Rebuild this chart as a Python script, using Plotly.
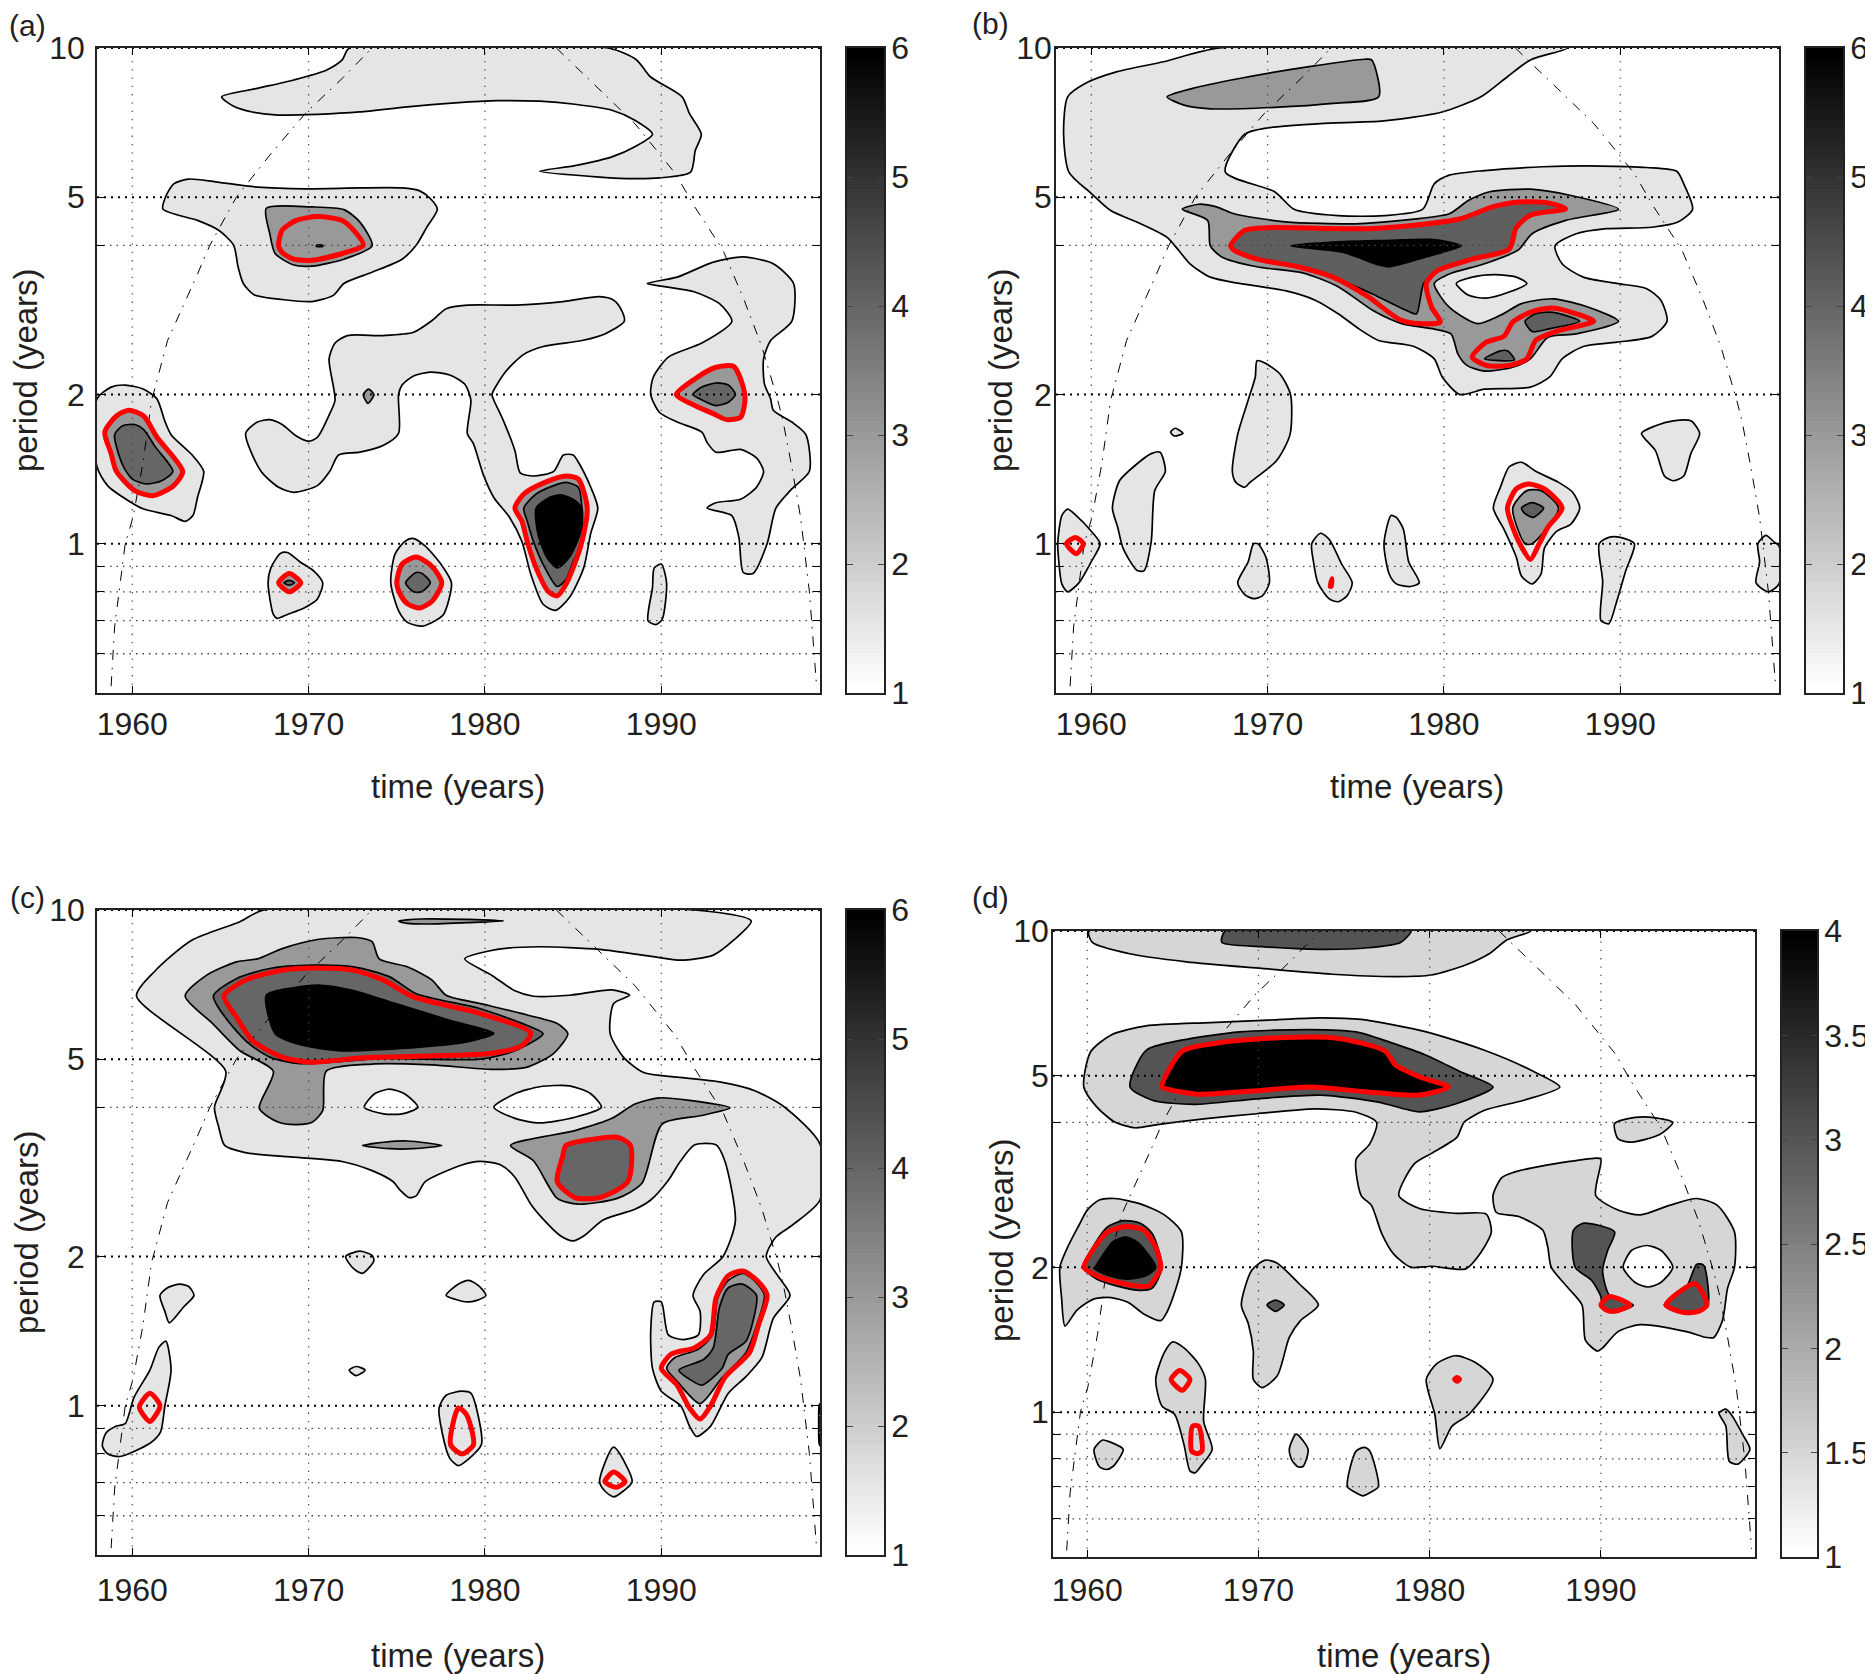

import numpy as np
import plotly.graph_objects as go

# Cone of influence, same for all panels (time, period)
coi_left = [(1958.8, 0.516), (1959.0, 0.68), (1959.6, 1.0), (1960.04, 1.13), (1960.6, 1.45), (1961.1, 1.95),
            (1961.3, 2.07), (1962.0, 2.57), (1963.7, 3.5), (1964.4, 4.0), (1965.9, 5.0), (1967.8, 6.08),
            (1969.8, 7.37), (1971.9, 8.68), (1973.6, 10.0)]
coi_right = [(1984.05, 10.0), (1986.5, 8.23), (1988.5, 7.04), (1990.8, 5.58), (1991.9, 4.78), (1993.5, 3.91),
             (1994.7, 3.1), (1995.7, 2.5), (1996.6, 1.95), (1996.9, 1.77), (1997.4, 1.43), (1997.9, 1.13),
             (1998.4, 0.8), (1998.8, 0.52)]

year_ticks = [1960, 1970, 1980, 1990]
period_ticks = [0.6, 0.7, 0.8, 0.9, 1, 2, 4, 5, 10]
period_labels = ["", "", "", "", "1", "2", "", "5", "10"]
major_periods = [1, 2, 5, 10]
minor_periods = [0.6, 0.7, 0.8, 0.9, 4]
bar_ticks_abc = [1, 2, 3, 4, 5, 6]
bar_ticks_d = [1, 1.5, 2, 2.5, 3, 3.5, 4]

# Panel (a)
a_light = [
    [(1972.31, 10), (1987.0, 10), (1988.6, 9.46), (1989.38, 8.75), (1991.18, 7.97), (1991.6, 7.37), (1992.27, 6.7),
     (1991.93, 6.22), (1991.66, 5.62), (1989.9, 5.47), (1988.53, 5.45), (1986.5, 5.49), (1983.1, 5.64), (1985.1, 5.79),
     (1987.2, 6.03), (1988.5, 6.32), (1989.5, 6.7), (1988.5, 7.15), (1987.2, 7.49), (1985.1, 7.7), (1983.1, 7.81),
     (1980.7, 7.83), (1978.3, 7.75), (1975.6, 7.61), (1972.9, 7.43), (1970.5, 7.35), (1968.1, 7.33), (1966.8, 7.43),
     (1965.75, 7.63), (1965.07, 7.97), (1967.1, 8.29), (1969.15, 8.62), (1971.0, 9.02), (1971.9, 9.46)],
    [(1961.74, 4.73), (1961.88, 5.0), (1962.35, 5.32), (1963.2, 5.44), (1964.73, 5.37), (1967.1, 5.24), (1969.83, 5.2),
     (1972.9, 5.22), (1975.27, 5.22), (1976.3, 5.15), (1976.9, 4.97), (1977.3, 4.73), (1976.7, 4.35), (1976.1, 4.0),
     (1975.3, 3.75), (1973.6, 3.53), (1972.0, 3.35), (1971.4, 3.17), (1970.2, 3.08), (1968.5, 3.11), (1966.9, 3.18),
     (1966.3, 3.35), (1966.0, 3.62), (1965.75, 4.0), (1964.9, 4.29), (1963.7, 4.49)],
    [(1966.43, 1.67), (1967.1, 1.76), (1967.8, 1.78), (1968.5, 1.74), (1969.3, 1.65), (1970.0, 1.61), (1970.5, 1.64),
     (1971.2, 1.83), (1971.5, 1.95), (1971.16, 2.36), (1971.5, 2.54), (1972.2, 2.63), (1974.25, 2.63), (1975.95, 2.67),
     (1977.0, 2.82), (1977.8, 2.98), (1979.0, 3.03), (1981.7, 3.03), (1984.45, 3.08), (1986.5, 3.15), (1987.3, 3.1),
     (1987.7, 2.98), (1987.9, 2.81), (1986.8, 2.65), (1985.5, 2.57), (1983.3, 2.5), (1982.2, 2.41), (1981.2, 2.23),
     (1980.4, 2.0), (1980.5, 1.95), (1981.05, 1.77), (1981.7, 1.54), (1982.0, 1.39), (1982.75, 1.37), (1983.9, 1.4),
     (1984.45, 1.51), (1985.0, 1.51), (1985.3, 1.46), (1986.0, 1.3), (1986.4, 1.18), (1986.0, 1.05), (1985.6, 0.894),
     (1984.8, 0.78), (1984.0, 0.734), (1983.3, 0.755), (1982.6, 0.868), (1982.1, 1.01), (1981.4, 1.13), (1980.5, 1.24),
     (1979.9, 1.38), (1979.35, 1.59), (1979.0, 1.67), (1979.2, 1.95), (1978.85, 2.1), (1978.0, 2.19), (1976.9, 2.22),
     (1975.95, 2.18), (1975.3, 2.09), (1975.1, 2.0), (1975.1, 1.67), (1974.25, 1.58), (1972.9, 1.53), (1971.7, 1.51),
     (1971.2, 1.4), (1970.5, 1.31), (1969.15, 1.27), (1968.3, 1.3), (1967.3, 1.4)],
    [(1958.0, 1.96), (1958.8, 2.07), (1959.6, 2.09), (1960.65, 2.05), (1961.4, 1.96), (1961.84, 1.77), (1962.2, 1.66),
     (1963.4, 1.51), (1964.05, 1.4), (1963.7, 1.24), (1963.44, 1.14), (1963.0, 1.11), (1962.2, 1.14), (1960.65, 1.175),
     (1959.8, 1.22), (1958.6, 1.31), (1958.0, 1.43)],
    [(1989.2, 3.35), (1990.9, 3.45), (1992.95, 3.7), (1994.65, 3.79), (1996.35, 3.67), (1997.5, 3.35), (1997.4, 2.81),
     (1996.2, 2.57), (1995.8, 2.36), (1995.85, 2.1), (1996.2, 1.96), (1996.35, 1.86), (1997.4, 1.76), (1998.2, 1.66),
     (1998.4, 1.4), (1997.4, 1.29), (1996.5, 1.18), (1996.0, 1.0), (1995.2, 0.871), (1994.65, 0.875), (1994.4, 1.03),
     (1994.0, 1.14), (1992.6, 1.18), (1993.1, 1.21), (1994.5, 1.23), (1995.4, 1.3), (1995.8, 1.4), (1995.4, 1.49),
     (1994.5, 1.55), (1993.1, 1.53), (1992.6, 1.6), (1992.3, 1.68), (1990.9, 1.76), (1989.9, 1.84), (1989.4, 2.0),
     (1989.55, 2.17), (1990.4, 2.38), (1992.3, 2.54), (1994.0, 2.81), (1993.3, 3.05), (1991.9, 3.22), (1990.2, 3.3)],
    [(1967.7, 0.834), (1967.86, 0.894), (1968.4, 0.956), (1968.8, 0.96), (1969.5, 0.92), (1970.3, 0.881), (1970.8, 0.834),
     (1970.5, 0.774), (1969.8, 0.744), (1968.8, 0.72), (1968.2, 0.707), (1968.0, 0.72)],
    [(1974.66, 0.834), (1974.9, 0.953), (1975.44, 1.01), (1975.9, 1.025), (1976.6, 0.99), (1977.5, 0.91), (1978.1, 0.834),
     (1977.65, 0.72), (1977.0, 0.694), (1976.4, 0.682), (1975.6, 0.694), (1975.1, 0.733)],
    [(1989.25, 0.699), (1989.5, 0.816), (1989.6, 0.894), (1990.0, 0.91), (1990.3, 0.834), (1990.05, 0.704), (1989.7, 0.687)],
]
a_red = [
    [(1968.3, 3.99), (1968.5, 4.29), (1969.3, 4.49), (1970.5, 4.57), (1971.9, 4.49), (1972.55, 4.29), (1973.1, 4.0),
     (1971.9, 3.85), (1970.2, 3.73), (1969.15, 3.75), (1968.5, 3.87)],
    [(1981.7, 1.18), (1982.2, 1.26), (1983.4, 1.33), (1984.6, 1.37), (1985.3, 1.35), (1985.8, 1.18), (1985.5, 1.01),
     (1985.0, 0.894), (1984.6, 0.829), (1984.1, 0.785), (1983.6, 0.8), (1982.9, 0.894), (1982.4, 1.01), (1982.1, 1.11)],
    [(1958.44, 1.68), (1959.1, 1.81), (1959.8, 1.86), (1960.65, 1.81), (1961.4, 1.64), (1962.86, 1.4), (1962.35, 1.31),
     (1961.16, 1.25), (1960.14, 1.28), (1959.1, 1.4), (1958.8, 1.52)],
    [(1990.85, 2.0), (1991.9, 2.15), (1993.1, 2.27), (1994.1, 2.28), (1994.65, 2.07), (1994.75, 1.95), (1994.5, 1.8),
     (1993.7, 1.78), (1992.95, 1.83), (1991.9, 1.9)],
    [(1968.3, 0.834), (1968.9, 0.871), (1969.56, 0.834), (1968.9, 0.8)],
    [(1975.0, 0.834), (1975.3, 0.91), (1976.1, 0.94), (1977.0, 0.9), (1977.55, 0.834), (1977.0, 0.766), (1976.3, 0.742),
     (1975.6, 0.757), (1975.2, 0.79)],
]
a_mid = [
    [(1967.6, 4.75), (1970.2, 4.78), (1972.0, 4.72), (1972.9, 4.46), (1973.6, 3.99), (1972.0, 3.75), (1970.2, 3.63),
     (1969.15, 3.65), (1968.1, 3.85), (1967.8, 4.22)],
    [(1973.4, 2.05), (1973.7, 2.0), (1973.37, 1.92), (1973.1, 2.0)],
    a_red[1], a_red[2], a_red[3], a_red[4], a_red[5],
]
a_dark = [
    [(1982.2, 1.18), (1982.9, 1.26), (1983.9, 1.31), (1984.6, 1.33), (1985.3, 1.3), (1985.5, 1.18), (1985.5, 1.01),
     (1985.0, 0.92), (1984.6, 0.847), (1984.1, 0.82), (1983.4, 0.894), (1982.75, 1.01), (1982.4, 1.11)],
    [(1959.0, 1.66), (1959.46, 1.73), (1960.14, 1.74), (1960.65, 1.7), (1961.3, 1.57), (1962.3, 1.4), (1961.67, 1.34),
     (1960.8, 1.32), (1960.0, 1.35), (1959.46, 1.44)],
    [(1991.8, 2.0), (1992.3, 2.07), (1993.1, 2.11), (1993.8, 2.09), (1994.2, 2.0), (1993.8, 1.93), (1993.1, 1.9), (1992.3, 1.95)],
    [(1968.6, 0.834), (1968.9, 0.844), (1969.2, 0.834), (1968.9, 0.825)],
    [(1975.5, 0.834), (1976.1, 0.875), (1976.46, 0.87), (1976.9, 0.834), (1976.4, 0.8), (1975.95, 0.8)],
]
a_black = [
    [(1982.9, 1.18), (1983.6, 1.237), (1984.3, 1.255), (1985.0, 1.23), (1985.5, 1.18), (1985.4, 1.05), (1984.8, 0.94),
     (1984.1, 0.894), (1983.5, 0.94), (1983.0, 1.05)],
    [(1970.45, 3.98), (1970.8, 3.98), (1970.8, 4.0), (1970.45, 4.0)],
]

# Panel (b)
b_light = [
    [(1967.24, 10), (1964.1, 9.38), (1961.47, 8.96), (1959.65, 8.48), (1958.66, 7.97), (1958.43, 6.72), (1958.73, 5.62),
     (1960.0, 5.09), (1961.1, 4.7), (1962.8, 4.42), (1964.3, 4.15), (1964.9, 3.93), (1965.6, 3.67), (1966.75, 3.45),
     (1968.4, 3.35), (1971.0, 3.24), (1972.7, 3.1), (1974.0, 2.91), (1975.2, 2.71), (1976.3, 2.57), (1978.3, 2.5),
     (1979.45, 2.36), (1979.9, 2.17), (1980.9, 2.0), (1982.3, 2.05), (1984.9, 2.07), (1986.0, 2.17), (1986.7, 2.36),
     (1987.9, 2.5), (1989.8, 2.55), (1991.8, 2.62), (1992.65, 2.81), (1992.3, 3.1), (1991.5, 3.27), (1989.8, 3.35),
     (1987.9, 3.45), (1986.7, 3.67), (1986.3, 3.99), (1987.5, 4.22), (1989.2, 4.32), (1991.8, 4.35), (1993.3, 4.46),
     (1994.1, 4.73), (1993.6, 5.32), (1993.2, 5.64), (1991.5, 5.74), (1988.9, 5.78), (1985.6, 5.76), (1982.3, 5.66),
     (1980.3, 5.54), (1979.45, 5.32), (1978.8, 4.73), (1976.6, 4.59), (1974.0, 4.59), (1971.5, 4.73), (1970.4, 5.13),
     (1967.6, 5.62), (1968.7, 6.7), (1970.0, 6.9), (1973.0, 7.04), (1976.6, 7.13), (1979.9, 7.43), (1982.1, 7.97),
     (1983.6, 8.75), (1984.9, 9.46), (1987.0, 10)],
    [(1969.4, 2.34), (1969.9, 2.31), (1970.7, 2.2), (1971.3, 2.0), (1971.27, 1.66), (1970.5, 1.47), (1969.0, 1.33),
     (1968.7, 1.3), (1968.2, 1.33), (1968.0, 1.4), (1968.3, 1.66), (1968.9, 1.95), (1969.3, 2.17)],
    [(1964.5, 1.68), (1964.76, 1.71), (1965.2, 1.67), (1964.7, 1.65)],
    [(1961.2, 1.18), (1961.6, 1.34), (1962.5, 1.44), (1963.4, 1.52), (1963.9, 1.53), (1964.2, 1.4), (1963.6, 1.28),
     (1963.4, 1.01), (1963.0, 0.883), (1962.6, 0.883), (1961.8, 0.98), (1961.5, 1.08)],
    [(1958.1, 1.0), (1958.33, 1.14), (1958.66, 1.175), (1959.15, 1.14), (1960.0, 1.06), (1960.5, 1.0), (1960.0, 0.92),
     (1959.3, 0.834), (1958.66, 0.8), (1958.33, 0.83), (1958.16, 0.92)],
    [(1969.45, 1.0), (1969.9, 0.94), (1970.1, 0.834), (1969.7, 0.785), (1969.2, 0.775), (1968.7, 0.79), (1968.3, 0.834),
     (1968.9, 0.92), (1969.2, 1.0)],
    [(1972.5, 1.0), (1973.0, 1.05), (1973.5, 1.02), (1974.2, 0.91), (1974.8, 0.834), (1974.5, 0.785), (1974.0, 0.764),
     (1973.5, 0.774), (1972.85, 0.834), (1972.6, 0.92)],
    [(1976.6, 1.0), (1977.0, 1.14), (1977.3, 1.13), (1977.7, 1.07), (1978.0, 0.92), (1978.6, 0.834), (1978.1, 0.82),
     (1977.3, 0.83), (1976.9, 0.868)],
    [(1982.8, 1.18), (1983.2, 1.3), (1983.7, 1.43), (1984.4, 1.46), (1985.2, 1.4), (1986.5, 1.33), (1987.3, 1.27),
     (1987.7, 1.18), (1987.2, 1.096), (1986.4, 1.06), (1985.7, 0.98), (1985.5, 0.868), (1985.0, 0.83), (1984.4, 0.86),
     (1984.1, 0.94), (1983.4, 1.07)],
    [(1988.8, 1.0), (1989.35, 1.03), (1990.0, 1.03), (1990.8, 1.0), (1990.3, 0.88), (1989.8, 0.766), (1989.35, 0.69),
     (1988.9, 0.7), (1989.0, 0.84)],
    [(1991.2, 1.67), (1992.0, 1.73), (1993.0, 1.77), (1994.0, 1.77), (1994.5, 1.67), (1994.0, 1.52), (1993.6, 1.37),
     (1993.0, 1.34), (1992.5, 1.37), (1992.0, 1.54)],
    [(1997.8, 1.0), (1998.26, 1.04), (1998.7, 1.01), (1999.0, 0.99), (1999.0, 0.83), (1998.4, 0.8), (1997.7, 0.834), (1997.9, 0.92)],
]
b_holes = [
    [(1980.7, 3.35), (1981.6, 3.45), (1982.9, 3.49), (1984.1, 3.45), (1984.7, 3.35), (1983.7, 3.22), (1982.4, 3.13), (1981.4, 3.17)],
]
b_mid = [
    [(1964.3, 7.97), (1965.75, 8.29), (1968.4, 8.68), (1972.35, 9.17), (1975.5, 9.49), (1975.9, 9.46), (1976.3, 7.97),
     (1973.7, 7.73), (1970.4, 7.59), (1966.75, 7.54), (1965.26, 7.67)],
    [(1965.16, 4.73), (1966.1, 4.84), (1967.1, 4.78), (1968.1, 4.63), (1971.0, 4.46), (1975.0, 4.42), (1977.6, 4.49),
     (1980.3, 4.63), (1981.4, 4.93), (1982.6, 5.13), (1984.9, 5.19), (1987.2, 5.04), (1989.9, 4.73), (1986.9, 4.49),
     (1985.0, 4.22), (1984.2, 3.91), (1982.3, 3.67), (1980.3, 3.5), (1979.45, 3.35), (1980.3, 3.0), (1981.9, 2.78),
     (1983.2, 2.89), (1984.4, 3.05), (1986.2, 3.12), (1988.2, 3.0), (1989.9, 2.81), (1987.5, 2.65), (1985.9, 2.61),
     (1984.9, 2.36), (1983.9, 2.27), (1982.3, 2.23), (1981.3, 2.29), (1980.8, 2.41), (1980.4, 2.65), (1979.45, 2.71),
     (1977.6, 2.78), (1976.0, 2.95), (1974.0, 3.3), (1972.0, 3.52), (1969.4, 3.62), (1967.4, 3.79), (1966.75, 3.99),
     (1966.6, 4.49)],
    [(1983.9, 1.18), (1984.7, 1.28), (1985.5, 1.28), (1986.5, 1.18), (1985.0, 1.0), (1984.6, 1.0)],
]
b_dark = [
    [(1967.9, 3.99), (1968.7, 4.29), (1970.0, 4.34), (1975.7, 4.32), (1978.3, 4.39), (1980.9, 4.52), (1982.75, 4.78),
     (1984.2, 4.89), (1985.9, 4.87), (1986.9, 4.74), (1984.9, 4.6), (1984.1, 4.34), (1983.7, 3.93), (1981.6, 3.75),
     (1979.6, 3.55), (1978.85, 3.35), (1978.45, 2.91), (1978.0, 2.94), (1975.7, 3.22), (1973.7, 3.45), (1971.7, 3.62),
     (1969.4, 3.75), (1968.1, 3.91)],
    [(1984.6, 2.81), (1985.2, 2.91), (1986.2, 2.93), (1987.7, 2.81), (1985.9, 2.71), (1985.0, 2.68)],
    [(1982.3, 2.36), (1983.2, 2.45), (1983.6, 2.45), (1984.0, 2.35)],
    [(1984.4, 1.18), (1985.0, 1.21), (1985.65, 1.18), (1985.05, 1.13), (1984.6, 1.15)],
]
b_black = [
    [(1971.3, 3.99), (1973.7, 4.06), (1976.6, 4.09), (1979.3, 4.11), (1980.3, 4.06), (1981.0, 3.99), (1979.0, 3.79),
     (1976.9, 3.62), (1976.3, 3.65), (1974.3, 3.87)],
]
b_red = [
    [(1967.9, 3.99), (1968.7, 4.29), (1970.0, 4.34), (1975.7, 4.32), (1978.3, 4.39), (1980.9, 4.52), (1982.75, 4.78),
     (1984.2, 4.89), (1985.9, 4.87), (1986.9, 4.74), (1984.9, 4.6), (1984.1, 4.34), (1983.7, 3.93), (1981.6, 3.75),
     (1979.6, 3.55), (1979.0, 3.35), (1979.3, 3.0), (1979.8, 2.8), (1978.6, 2.78), (1977.5, 2.83), (1975.7, 3.15),
     (1973.7, 3.45), (1971.7, 3.62), (1969.4, 3.75), (1968.1, 3.91)],
    [(1981.6, 2.38), (1982.4, 2.55), (1983.4, 2.62), (1983.9, 2.8), (1985.0, 2.94), (1986.2, 2.99), (1987.5, 2.91),
     (1988.5, 2.81), (1986.5, 2.69), (1985.2, 2.57), (1984.7, 2.36), (1983.7, 2.29), (1982.4, 2.29)],
    [(1983.6, 1.18), (1984.1, 1.29), (1984.8, 1.32), (1985.7, 1.29), (1986.7, 1.18), (1985.9, 1.08), (1985.4, 1.0),
     (1984.9, 0.93), (1984.4, 0.985), (1983.9, 1.08)],
    [(1958.6, 1.0), (1959.1, 1.03), (1959.55, 1.0), (1959.15, 0.955)],
    [(1973.55, 0.82), (1973.65, 0.85), (1973.6, 0.82)],
]

# Panel (c)
c_light = [
    [(1960.24, 6.71), (1961.33, 7.56), (1963.37, 8.69), (1966.1, 9.47), (1967.45, 10), (1991.9, 10), (1995.1, 9.5),
     (1994.1, 8.69), (1992.95, 8.11), (1991.1, 7.92), (1989.55, 8.05), (1986.5, 8.33), (1983.1, 8.43), (1980.7, 8.33),
     (1978.85, 7.97), (1980.4, 7.38), (1981.7, 6.87), (1982.75, 6.7), (1984.8, 6.73), (1987.2, 6.9), (1988.2, 6.73),
     (1987.3, 6.48), (1987.1, 5.63), (1987.85, 5.05), (1989.0, 4.7), (1990.9, 4.6), (1993.3, 4.5), (1995.3, 4.32),
     (1997.0, 4.0), (1999.0, 3.37), (1999.0, 2.6), (1997.4, 2.31), (1996.5, 2.19), (1995.95, 2.0), (1996.7, 1.81),
     (1997.3, 1.67), (1996.35, 1.5), (1995.7, 1.25), (1994.8, 1.145), (1993.8, 1.06), (1992.8, 0.91), (1992.0, 0.867),
     (1991.6, 0.91), (1991.1, 1.0), (1990.0, 1.07), (1989.5, 1.19), (1989.4, 1.41), (1989.6, 1.62), (1990.0, 1.62),
     (1990.4, 1.39), (1991.25, 1.36), (1992.1, 1.39), (1992.2, 1.55), (1991.8, 1.67), (1992.4, 1.84), (1993.5, 2.0),
     (1994.2, 2.36), (1993.6, 3.12), (1993.1, 3.36), (1991.9, 3.36), (1991.1, 3.12), (1990.4, 2.85), (1989.4, 2.6),
     (1988.5, 2.49), (1986.7, 2.37), (1985.6, 2.2), (1985.0, 2.15), (1984.3, 2.2), (1983.3, 2.38), (1982.6, 2.55),
     (1981.7, 2.89), (1980.9, 3.06), (1979.7, 3.11), (1978.7, 3.06), (1976.6, 2.83), (1976.1, 2.65), (1975.7, 2.63),
     (1975.2, 2.72), (1974.8, 2.83), (1973.6, 2.98), (1971.9, 3.11), (1968.8, 3.18), (1966.4, 3.24), (1965.24, 3.35),
     (1964.9, 3.65), (1964.66, 4.0), (1965.3, 4.73)],
    [(1972.1, 2.0), (1972.9, 2.05), (1973.6, 2.01), (1973.7, 1.96), (1973.05, 1.85), (1972.55, 1.89)],
    [(1961.57, 1.67), (1962.0, 1.73), (1962.7, 1.76), (1963.2, 1.74), (1963.5, 1.67), (1962.9, 1.58), (1962.1, 1.47), (1961.85, 1.55)],
    [(1977.8, 1.67), (1978.5, 1.76), (1979.1, 1.79), (1979.7, 1.74), (1980.05, 1.67), (1979.5, 1.63), (1979.0, 1.62), (1978.3, 1.64)],
    [(1972.3, 1.18), (1972.7, 1.2), (1973.2, 1.18), (1972.7, 1.15)],
    [(1958.3, 0.83), (1958.5, 0.88), (1959.1, 0.91), (1959.6, 0.92), (1960.1, 1.04), (1961.0, 1.18), (1961.5, 1.31),
     (1961.9, 1.35), (1962.2, 1.18), (1961.85, 1.0), (1961.6, 0.885), (1961.0, 0.84), (1959.3, 0.79), (1958.6, 0.8)],
    [(1977.4, 0.99), (1977.8, 1.05), (1978.7, 1.07), (1979.2, 1.06), (1979.6, 0.96), (1979.8, 0.835), (1979.0, 0.777),
     (1978.5, 0.757), (1978.0, 0.784), (1977.6, 0.874)],
    [(1986.5, 0.703), (1987.3, 0.825), (1988.35, 0.703), (1987.85, 0.673), (1987.3, 0.655), (1986.8, 0.673)],
    [(1998.95, 1.0), (1999.0, 1.01), (1999.0, 0.83), (1998.95, 0.84)],
]
c_holes = [
    [(1973.16, 4.0), (1973.74, 4.26), (1974.6, 4.35), (1975.44, 4.26), (1976.2, 4.0), (1975.3, 3.88), (1974.25, 3.88)],
    [(1980.5, 4.0), (1981.7, 4.26), (1983.1, 4.4), (1984.8, 4.42), (1986.0, 4.26), (1986.6, 4.0), (1985.1, 3.82), (1983.1, 3.72), (1981.7, 3.8)],
]
c_red = [
    [(1965.2, 6.71), (1966.4, 7.22), (1968.5, 7.56), (1970.5, 7.64), (1972.55, 7.56), (1974.25, 7.22), (1975.95, 6.68),
     (1979.7, 6.19), (1982.6, 5.65), (1982.1, 5.33), (1980.4, 5.14), (1976.3, 5.07), (1972.9, 5.03), (1970.2, 4.93),
     (1968.5, 5.05), (1966.8, 5.46), (1965.9, 6.09)],
    [(1984.6, 3.35), (1986.15, 3.45), (1987.5, 3.48), (1988.25, 3.35), (1988.1, 2.83), (1986.5, 2.63), (1985.1, 2.63),
     (1984.1, 2.83), (1984.4, 3.18)],
    [(1990.0, 1.19), (1990.55, 1.27), (1991.9, 1.31), (1992.8, 1.39), (1993.1, 1.65), (1993.8, 1.83), (1994.65, 1.87),
     (1995.5, 1.78), (1996.0, 1.67), (1995.5, 1.45), (1995.0, 1.28), (1993.6, 1.14), (1992.8, 1.0), (1992.2, 0.94),
     (1991.6, 0.99), (1990.9, 1.1)],
    [(1960.4, 0.994), (1961.0, 1.06), (1961.57, 1.0), (1961.0, 0.93)],
    [(1978.05, 0.835), (1978.5, 0.99), (1978.95, 0.96), (1979.35, 0.835), (1978.7, 0.8)],
    [(1986.8, 0.703), (1987.3, 0.735), (1987.95, 0.703), (1987.45, 0.685)],
]
c_mid = [
    [(1963.0, 6.71), (1964.2, 7.38), (1965.9, 7.86), (1967.1, 7.97), (1968.5, 8.36), (1970.5, 8.72), (1972.7, 8.8),
     (1973.6, 8.63), (1974.0, 7.97), (1975.6, 7.68), (1977.0, 7.22), (1977.8, 6.73), (1979.7, 6.48), (1982.4, 6.14),
     (1984.1, 5.9), (1984.7, 5.63), (1983.9, 5.14), (1982.4, 4.82), (1980.4, 4.77), (1977.0, 4.87), (1973.6, 4.89),
     (1971.0, 4.73), (1970.8, 3.94), (1970.2, 3.73), (1969.3, 3.69), (1968.3, 3.73), (1967.2, 3.98), (1968.0, 4.73),
     (1966.1, 5.2), (1964.56, 5.9)],
    [(1975.1, 9.5), (1976.3, 9.59), (1979.0, 9.57), (1981.05, 9.5), (1979.0, 9.43), (1976.6, 9.37), (1975.6, 9.4)],
    [(1973.06, 3.35), (1974.25, 3.4), (1975.6, 3.42), (1977.55, 3.35), (1975.95, 3.3), (1974.6, 3.3)],
    [(1981.45, 3.35), (1985.1, 3.59), (1987.2, 3.8), (1988.5, 4.06), (1989.9, 4.18), (1991.6, 4.13), (1993.9, 3.99),
     (1992.3, 3.85), (1990.05, 3.7), (1988.9, 2.81), (1987.5, 2.62), (1985.3, 2.55), (1984.1, 2.62), (1982.75, 3.12)],
    [(1990.3, 1.19), (1990.75, 1.25), (1992.1, 1.3), (1992.9, 1.39), (1993.2, 1.65), (1993.8, 1.79), (1994.65, 1.85),
     (1995.4, 1.77), (1995.85, 1.67), (1995.4, 1.45), (1994.8, 1.28), (1993.45, 1.14), (1992.2, 1.01), (1990.9, 1.12)],
]
c_dark = [
    [(1964.6, 6.71), (1965.9, 7.27), (1967.8, 7.62), (1970.2, 7.74), (1972.55, 7.68), (1974.6, 7.33), (1976.1, 6.78),
     (1979.7, 6.33), (1982.4, 5.85), (1983.3, 5.63), (1981.7, 5.2), (1979.7, 5.0), (1974.25, 5.02), (1969.5, 4.9),
     (1967.8, 5.05), (1966.6, 5.38), (1965.4, 5.99)],
    c_red[1],
    [(1991.0, 1.18), (1992.4, 1.24), (1992.95, 1.31), (1993.3, 1.58), (1993.8, 1.73), (1994.6, 1.76), (1995.4, 1.67),
     (1995.2, 1.48), (1994.8, 1.35), (1993.8, 1.27), (1993.45, 1.19), (1992.3, 1.1), (1991.8, 1.12)],
]
c_black = [
    [(1967.6, 6.73), (1969.15, 6.97), (1970.7, 7.05), (1972.55, 6.88), (1974.9, 6.48), (1978.0, 5.99), (1980.5, 5.64),
     (1979.0, 5.42), (1976.3, 5.29), (1971.9, 5.2), (1970.2, 5.29), (1969.0, 5.42), (1968.1, 5.63)],
]

# Panel (d)
d_light = [
    [(1960.1, 10), (1960.3, 9.47), (1962.4, 8.98), (1965.8, 8.63), (1970.2, 8.36), (1974.3, 8.13), (1978.0, 8.04),
     (1980.1, 8.1), (1982.1, 8.5), (1983.5, 8.98), (1984.5, 9.58), (1985.9, 10)],
    [(1959.8, 4.74), (1960.2, 5.61), (1961.4, 6.08), (1963.44, 6.35), (1967.2, 6.45), (1970.6, 6.53), (1973.6, 6.6),
     (1976.0, 6.55), (1979.8, 6.17), (1983.2, 5.65), (1985.9, 5.14), (1987.6, 4.74), (1985.5, 4.45), (1983.2, 4.24),
     (1982.0, 4.0), (1981.6, 3.73), (1980.1, 3.45), (1979.1, 3.28), (1978.2, 2.82), (1979.4, 2.65), (1981.5, 2.59),
     (1983.3, 2.58), (1983.6, 2.37), (1983.0, 2.15), (1982.1, 1.985), (1980.1, 2.01), (1978.9, 2.0), (1977.9, 2.13),
     (1977.2, 2.35), (1976.6, 2.69), (1976.0, 2.82), (1975.7, 3.35), (1976.5, 3.61), (1976.9, 4.0), (1975.7, 4.2),
     (1973.3, 4.27), (1969.9, 4.17), (1966.8, 4.07), (1964.1, 3.96), (1962.8, 3.9), (1961.6, 4.01), (1960.55, 4.31)],
    [(1990.8, 3.98), (1992.0, 4.1), (1993.2, 4.09), (1994.2, 4.0), (1993.4, 3.77), (1991.7, 3.64), (1991.0, 3.7)],
    [(1960.7, 2.76), (1961.6, 2.78), (1963.1, 2.71), (1964.5, 2.57), (1965.5, 2.37), (1965.5, 2.0), (1965.0, 1.73),
     (1964.6, 1.6), (1964.3, 1.55), (1963.3, 1.6), (1962.4, 1.69), (1961.4, 1.73), (1960.4, 1.72), (1959.4, 1.63),
     (1958.7, 1.51), (1958.5, 1.73), (1958.4, 2.0), (1958.85, 2.2), (1959.5, 2.44), (1960.0, 2.63)],
    [(1969.0, 1.67), (1969.6, 1.97), (1970.4, 2.07), (1971.1, 2.04), (1972.3, 1.86), (1973.5, 1.67), (1972.45, 1.55),
     (1971.8, 1.43), (1971.1, 1.19), (1970.2, 1.125), (1969.7, 1.17), (1969.7, 1.34), (1969.4, 1.53)],
    [(1964.0, 1.17), (1964.5, 1.33), (1965.0, 1.4), (1965.65, 1.36), (1966.5, 1.26), (1966.9, 1.17), (1966.8, 0.956),
     (1967.3, 0.837), (1966.7, 0.777), (1966.3, 0.748), (1966.0, 0.755), (1965.65, 0.856), (1965.1, 0.99), (1964.36, 1.03)],
    [(1960.4, 0.837), (1960.9, 0.875), (1961.3, 0.868), (1962.1, 0.837), (1961.5, 0.771), (1961.1, 0.76), (1960.7, 0.771)],
    [(1971.8, 0.837), (1972.2, 0.9), (1972.9, 0.837), (1972.6, 0.771), (1972.3, 0.77), (1971.95, 0.795)],
    [(1975.2, 0.7), (1975.7, 0.83), (1976.2, 0.845), (1976.5, 0.83), (1977.0, 0.7), (1976.5, 0.68), (1976.1, 0.67), (1975.7, 0.68)],
    [(1979.8, 1.17), (1980.4, 1.26), (1981.5, 1.31), (1982.65, 1.27), (1983.7, 1.17), (1982.3, 0.99), (1981.3, 0.935),
     (1980.6, 0.84), (1980.3, 0.99)],
    [(1996.9, 0.996), (1997.3, 1.015), (1997.6, 0.99), (1998.3, 0.896), (1998.7, 0.837), (1998.0, 0.78), (1997.5, 0.79), (1997.3, 0.935)],
    [(1983.7, 2.82), (1984.2, 3.07), (1984.9, 3.15), (1986.6, 3.25), (1989.6, 3.37), (1990.0, 3.36), (1989.7, 2.82),
     (1991.0, 2.63), (1992.3, 2.57), (1994.0, 2.69), (1995.6, 2.78), (1996.8, 2.69), (1997.8, 2.37), (1997.8, 2.0),
     (1997.4, 1.81), (1997.1, 1.55), (1996.6, 1.43), (1996.15, 1.43), (1995.0, 1.47), (1992.3, 1.52), (1991.0, 1.47),
     (1990.1, 1.36), (1989.8, 1.34), (1989.1, 1.41), (1988.9, 1.67), (1988.1, 1.81), (1987.1, 2.0), (1986.9, 2.2),
     (1986.6, 2.39), (1985.2, 2.55), (1983.9, 2.6)],
]
d_holes = [
    [(1991.3, 2.0), (1991.8, 2.17), (1992.7, 2.22), (1993.5, 2.17), (1994.2, 2.0), (1993.5, 1.86), (1992.75, 1.82), (1992.0, 1.86)],
]
d_dark = [
    [(1968.06, 10), (1967.86, 9.47), (1970.2, 9.28), (1973.6, 9.16), (1976.4, 9.23), (1978.3, 9.47), (1978.9, 10)],
    [(1962.5, 4.74), (1963.44, 5.65), (1965.5, 5.93), (1968.9, 6.17), (1973.0, 6.24), (1975.7, 6.17), (1977.7, 5.87),
     (1979.8, 5.52), (1981.8, 5.1), (1983.7, 4.74), (1981.5, 4.37), (1979.4, 4.21), (1977.0, 4.41), (1973.6, 4.56),
     (1969.9, 4.48), (1966.2, 4.36), (1963.8, 4.45)],
    [(1959.8, 2.0), (1960.45, 2.24), (1961.2, 2.43), (1962.1, 2.5), (1963.1, 2.47), (1963.8, 2.35), (1964.36, 2.0),
     (1963.8, 1.81), (1963.1, 1.79), (1961.7, 1.83), (1960.55, 1.89)],
    [(1970.5, 1.67), (1971.0, 1.71), (1971.5, 1.67), (1971.0, 1.62)],
    [(1988.4, 2.39), (1989.0, 2.47), (1990.8, 2.37), (1990.4, 2.17), (1990.1, 1.97), (1990.5, 1.75), (1991.9, 1.67),
     (1991.0, 1.62), (1990.1, 1.65), (1990.0, 1.74), (1989.45, 1.88), (1988.5, 2.0)],
    [(1993.7, 1.67), (1995.0, 1.82), (1995.6, 2.03), (1996.0, 2.02), (1996.25, 1.67), (1995.7, 1.62), (1994.9, 1.61)],
]
d_red = [
    [(1964.36, 4.74), (1965.55, 5.63), (1967.9, 5.87), (1971.6, 6.01), (1974.7, 5.98), (1977.4, 5.63), (1978.0, 5.27),
     (1979.4, 4.98), (1981.1, 4.74), (1979.4, 4.56), (1976.4, 4.63), (1973.0, 4.74), (1969.6, 4.65), (1966.5, 4.58), (1964.8, 4.68)],
    [(1959.8, 2.0), (1960.55, 2.23), (1961.2, 2.37), (1962.25, 2.43), (1963.3, 2.39), (1964.0, 2.2), (1964.3, 2.0),
     (1964.1, 1.93), (1963.6, 1.83), (1962.8, 1.83), (1961.1, 1.89), (1960.2, 1.95)],
    [(1964.9, 1.17), (1965.4, 1.22), (1966.0, 1.17), (1965.55, 1.11), (1965.1, 1.14)],
    [(1966.15, 0.935), (1966.5, 0.935), (1966.7, 0.83), (1966.4, 0.82), (1966.1, 0.83)],
    [(1981.45, 1.17), (1981.6, 1.18), (1981.75, 1.17), (1981.6, 1.16)],
    [(1990.0, 1.67), (1990.5, 1.74), (1991.7, 1.67), (1990.8, 1.62), (1990.3, 1.63)],
    [(1993.8, 1.67), (1995.5, 1.85), (1996.2, 1.67), (1995.7, 1.62), (1994.9, 1.61)],
]
d_black = [
    d_red[0],
    [(1960.45, 2.0), (1961.5, 2.26), (1962.25, 2.31), (1962.9, 2.26), (1964.0, 2.0), (1963.44, 1.92), (1962.25, 1.89),
     (1961.1, 1.93), (1960.4, 1.99)],
]

# Styling
FONT = "Liberation Sans"
TEXT = "#231f20"
# The page keeps its 8px body margin, so the figure stops exactly at the window edge
W, H, OFFSET = 1865, 1666, 8


def fx(px):
    return (px - OFFSET) / W


def fy(px):
    return 1 - (px - OFFSET) / H


def contour_trace(contour, axis, color=None, line_color="black", width=1.7):
    pts = list(contour) + [contour[0]]
    return go.Scatter(
        x=[q[0] for q in pts],
        y=[q[1] for q in pts],
        mode="lines",
        line=dict(color=line_color, width=width, shape="spline", smoothing=0.7),
        fill="toself" if color else None,
        fillcolor=color,
        hoverinfo="skip",
        showlegend=False,
        xaxis="x" + axis,
        yaxis="y" + axis,
    )


def line_trace(pts, axis, dash, color="black", width=1.0):
    return go.Scatter(
        x=[q[0] for q in pts],
        y=[q[1] for q in pts],
        mode="lines",
        line=dict(color=color, width=width, dash=dash),
        hoverinfo="skip",
        showlegend=False,
        xaxis="x" + axis,
        yaxis="y" + axis,
    )


panels = [
    dict(axis="", bar="5", label="(a)", box=(97, 820, 48, 693), bar_x=(847, 884), ticks=bar_ticks_abc, zmax=6,
         label_xy=(27, 25), ylab_xy=(26, 370), xlab_xy=(458, 786), x_off=2, y_off=4,
         layers=[(a_light, "#e5e5e5"), (a_mid, "#999999"), (a_dark, "#666666"), (a_black, "#000000")], red=a_red),
    dict(axis="2", bar="6", label="(b)", box=(1056, 1779, 48, 693), bar_x=(1806, 1843), ticks=bar_ticks_abc, zmax=6,
         label_xy=(991, 24), ylab_xy=(1001, 370), xlab_xy=(1417, 786), x_off=2, y_off=-4,
         layers=[(b_light, "#e5e5e5"), (b_holes, "#ffffff"), (b_mid, "#999999"), (b_dark, "#5f5f5f"), (b_black, "#000000")], red=b_red),
    dict(axis="3", bar="7", label="(c)", box=(97, 820, 910, 1555), bar_x=(847, 884), ticks=bar_ticks_abc, zmax=6,
         label_xy=(27, 897), ylab_xy=(26, 1232), xlab_xy=(458, 1655), x_off=6, y_off=4,
         layers=[(c_light, "#e5e5e5"), (c_holes, "#ffffff"), (c_mid, "#999999"), (c_dark, "#666666"), (c_black, "#000000")], red=c_red),
    dict(axis="4", bar="8", label="(d)", box=(1053, 1755, 931, 1557), bar_x=(1782, 1817), ticks=bar_ticks_d, zmax=4,
         label_xy=(991, 897), ylab_xy=(1001, 1240), xlab_xy=(1404, 1655), x_off=4, y_off=-4,
         layers=[(d_light, "#d6d6d6"), (d_holes, "#ffffff"), (d_dark, "#545454"), (d_black, "#000000")], red=d_red),
]

fig = go.Figure()
layout = {}
annotations = []

for panel in panels:
    axis = panel["axis"]
    for contours, color in panel["layers"]:
        for contour in contours:
            fig.add_trace(contour_trace(contour, axis, color))

    # Grid goes over the fills, so it is drawn as lines and not by the axes
    for year in year_ticks:
        fig.add_trace(line_trace([(year, 0.5), (year, 10)], axis, "1.3px,7px", "#444444", 1.2))
    for period in major_periods:
        fig.add_trace(line_trace([(1958, period), (1999, period)], axis, "2px,5px", "black", 2.0))
    for period in minor_periods:
        fig.add_trace(line_trace([(1958, period), (1999, period)], axis, "1.5px,5px", "#444444", 1.3))
    fig.add_trace(line_trace(coi_left, axis, "10px,7px,1.5px,8px", "black", 1.0))
    fig.add_trace(line_trace(coi_right, axis, "10px,7px,1.5px,8px", "black", 1.0))

    for contour in panel["red"]:
        fig.add_trace(contour_trace(contour, axis, None, "#ff0000", 5))

    left, right, top, bottom = panel["box"]
    xkey, ykey = "xaxis" + axis, "yaxis" + axis
    layout[xkey] = dict(
        domain=[fx(left), fx(right)], range=[1958, 1999], anchor="y" + axis, automargin=False,
        tickvals=year_ticks, ticks="inside", ticklen=7, tickcolor="black", showgrid=False, zeroline=False,
        showline=True, mirror="ticks", linecolor="#222222", linewidth=1.6, ticklabelstandoff=panel["x_off"],
        tickfont=dict(family=FONT, size=32, color=TEXT),
    )
    layout[ykey] = dict(
        domain=[fy(bottom), fy(top)], type="log", range=[np.log10(0.5), 1], anchor="x" + axis, automargin=False,
        tickvals=period_ticks, ticktext=period_labels, ticks="inside", ticklen=7, tickcolor="black", showgrid=False,
        zeroline=False, showline=True, mirror="ticks", linecolor="#222222", linewidth=1.6,
        ticklabelstandoff=panel["y_off"], tickfont=dict(family=FONT, size=32, color=TEXT),
    )

    # Colour scale
    bar = panel["bar"]
    bar_ticks = panel["ticks"]
    fig.add_trace(go.Heatmap(
        x=[0, 1],
        y=np.linspace(bar_ticks[0], panel["zmax"], 65),
        z=[[i] for i in range(64)],
        colorscale=[[0, "#ffffff"], [1, "#000000"]],
        showscale=False,
        hoverinfo="skip",
        xaxis="x" + bar,
        yaxis="y" + bar,
    ))
    layout["xaxis" + bar] = dict(
        domain=[fx(panel["bar_x"][0]), fx(panel["bar_x"][1])], range=[0, 1], anchor="y" + bar, automargin=False,
        showticklabels=False, ticks="", showgrid=False, zeroline=False, showline=True, mirror=True,
        linecolor="#222222", linewidth=1.6,
    )
    layout["yaxis" + bar] = dict(
        domain=[fy(bottom), fy(top)], range=[bar_ticks[0], panel["zmax"]], anchor="x" + bar, side="right",
        automargin=False, tickvals=bar_ticks, ticktext=[f"{v:g}" for v in bar_ticks], ticks="inside", ticklen=6,
        tickcolor="#444444", showgrid=False, zeroline=False, showline=True, mirror="ticks", linecolor="#222222",
        linewidth=1.6, ticklabelstandoff=-1, tickfont=dict(family=FONT, size=32, color=TEXT),
    )

    annotations.append(dict(text=panel["label"], x=fx(panel["label_xy"][0]), y=fy(panel["label_xy"][1]),
                            xref="paper", yref="paper", showarrow=False, xanchor="center", yanchor="middle",
                            font=dict(family=FONT, size=30, color=TEXT)))
    annotations.append(dict(text="period (years)", x=fx(panel["ylab_xy"][0]), y=fy(panel["ylab_xy"][1]),
                            xref="paper", yref="paper", showarrow=False, textangle=-90, xanchor="center",
                            yanchor="middle", font=dict(family=FONT, size=33, color=TEXT)))
    annotations.append(dict(text="time (years)", x=fx(panel["xlab_xy"][0]), y=fy(panel["xlab_xy"][1]),
                            xref="paper", yref="paper", showarrow=False, xanchor="center", yanchor="middle",
                            font=dict(family=FONT, size=33, color=TEXT)))

fig.update_layout(
    width=W,
    height=H,
    margin=dict(l=0, r=0, t=0, b=0),
    paper_bgcolor="white",
    plot_bgcolor="white",
    showlegend=False,
    annotations=annotations,
    **layout,
)
fig.write_html("out.html")
